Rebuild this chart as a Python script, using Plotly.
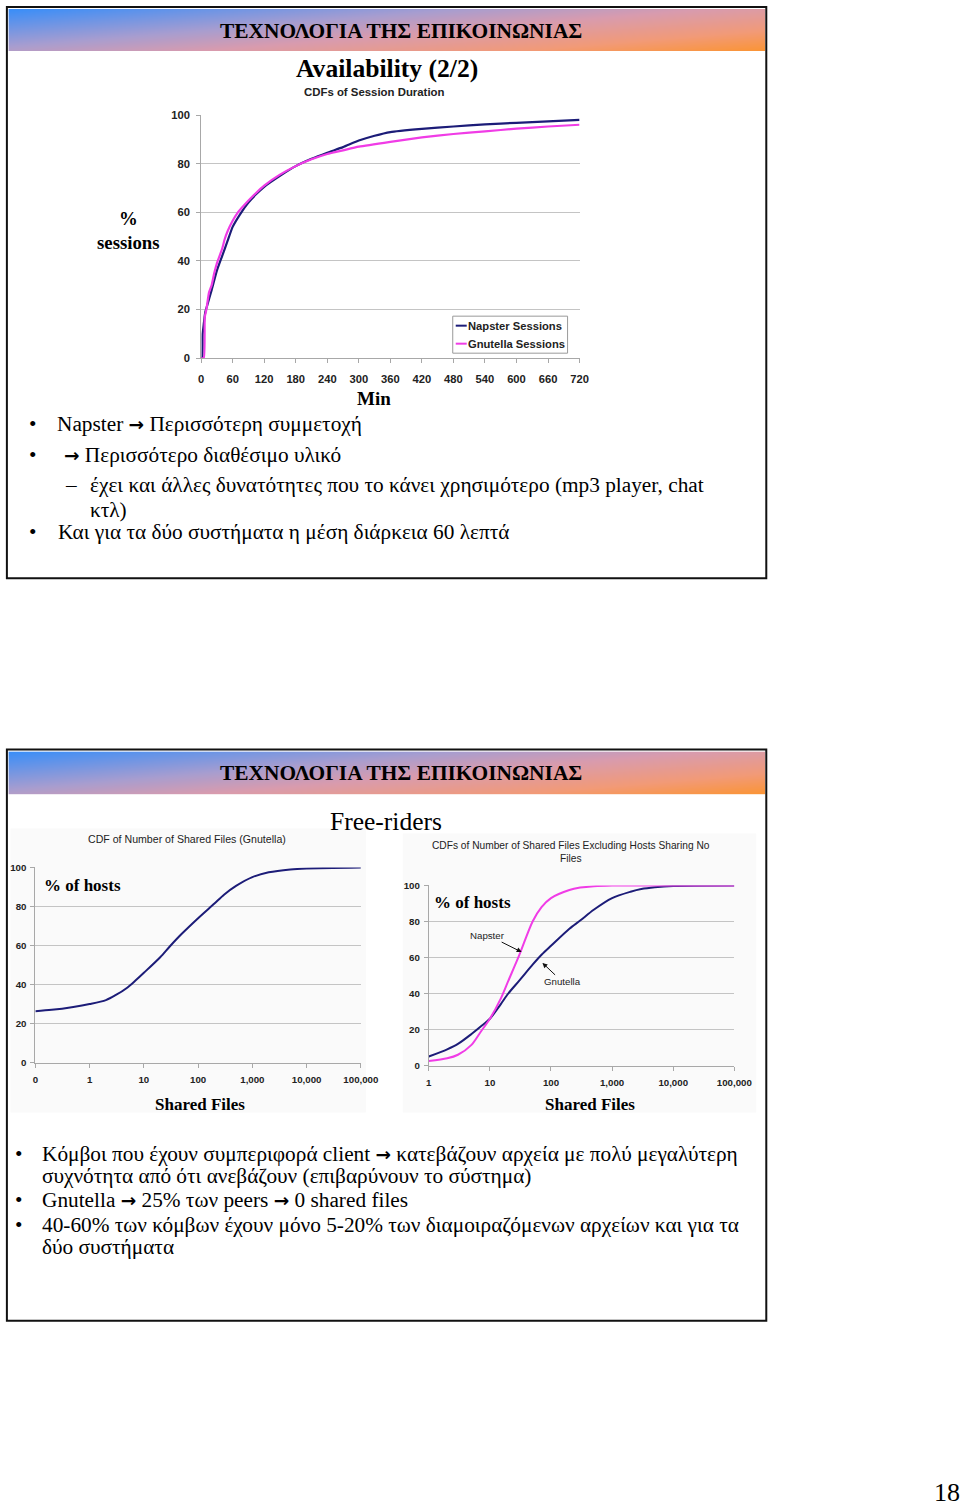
import plotly.graph_objects as go

# The photographed picture maps page pixels as pic = 2.6 + 0.98*x, 6 + 0.9916*y,
# so positions read off the reference are converted back to page pixels.
W, H = 980, 1520
SX, OX = 0.98, 2.6
SY, OY = 0.9916, 6.0
TEXT_PAD = 2.5  # annotation border + pad before the glyphs start
SERIF = "Liberation Serif"
SANS = "Liberation Sans"
NAVY = "#1c1c78"
MAGENTA = "#f03ce6"
GRID = "#c4c4c4"
AXIS = "#a8a8a8"
ARROW = '<span style="font-family:DejaVu Sans;font-weight:bold;font-size:18.5px">→</span>'

# --- data -------------------------------------------------------------------
# CDFs of session duration (minutes -> % sessions)
session_ticks = list(range(0, 721, 60))
napster_min = [0, 2, 3, 5, 8, 12, 20, 30, 40, 50, 60, 75, 90, 105, 120, 150, 180,
               210, 240, 270, 300, 330, 360, 420, 480, 540, 600, 660, 720]
napster_pct = [0, 0, 10, 14, 19, 22, 28, 36, 42, 48, 54, 59.5, 64, 67.5, 70.5, 75,
               79, 82, 84.5, 86.8, 89.5, 91.5, 93, 94.3, 95.3, 96.2, 96.8, 97.4, 98]
gnutella_min = [0, 5, 7, 10, 15, 20, 25, 30, 35, 40, 45, 50, 60, 70, 80, 100, 120,
                150, 180, 210, 240, 270, 300, 360, 420, 480, 540, 600, 660, 720]
gnutella_pct = [0, 0, 17, 20, 27, 30, 35, 39, 42, 45, 49, 52, 56.5, 60, 62.5, 67, 71,
                75.5, 79, 81.8, 84, 85.5, 87, 89, 90.8, 92.2, 93.3, 94.4, 95.3, 96]
legend_names = ["Napster Sessions", "Gnutella Sessions"]

# CDF of number of shared files (Gnutella); the "0" slot sits at 0.1 on the log axis
files_left = [0.1, 0.2, 0.5, 1, 2, 3, 5, 7, 10, 20, 30, 50, 100, 200, 300, 500,
              1000, 2000, 5000, 10000, 100000]
gnut_all_pct = [26.3, 27, 28.5, 30, 32, 34.5, 38.5, 42, 46, 54, 59.5, 66, 74, 81.5,
                86, 90.5, 95, 97.5, 99, 99.5, 100]
left_tickvals = [0.1, 1, 10, 100, 1000, 10000, 100000]
left_ticktext = ["0", "1", "10", "100", "1,000", "10,000", "100,000"]

# CDFs excluding hosts sharing no files
files_right = [1, 2, 3, 5, 7, 10, 15, 20, 30, 50, 70, 100, 200, 300, 500, 1000,
               2000, 3000, 5000, 10000, 100000]
gnut_excl_pct = [5, 9, 12, 17.5, 21.5, 26, 34, 40, 47, 56, 61.5, 66.5, 76, 80.5,
                 86.5, 93, 96.5, 98, 99, 99.7, 100]
nap_excl_pct = [2.5, 4, 6, 11.5, 18.5, 26, 37, 47, 61, 80, 88, 93, 97.5, 98.8,
                99.6, 100, 100, 100, 100, 100, 100]
right_tickvals = [1, 10, 100, 1000, 10000, 100000]
right_ticktext = ["1", "10", "100", "1,000", "10,000", "100,000"]

# header gradient: corner values of a diagonal ramp
header_z = [[0.4, 1.0], [0.0, 0.6]]
header_scale = [[0, "#3a8ef8"], [0.35, "#a79dd0"], [0.55, "#d99bae"],
                [0.8, "#f29a78"], [1, "#fb9433"]]

HEADER = "ΤΕΧΝΟΛΟΓΙΑ ΤΗΣ ΕΠΙΚΟΙΝΩΝΙΑΣ"


def px(x):
    return (x - OX) / SX / W


def py(y):
    return 1 - (y - OY) / SY / H


fig = go.Figure()

# --- header gradients -------------------------------------------------------
for ax in ("4", "5"):
    fig.add_trace(go.Heatmap(
        z=header_z, x=[0, 1], y=[0, 1], zsmooth="best", colorscale=header_scale,
        zmin=0, zmax=1, showscale=False, hoverinfo="skip",
        xaxis="x" + ax, yaxis="y" + ax,
    ))

# --- session duration chart -------------------------------------------------
fig.add_trace(go.Scatter(
    x=napster_min, y=napster_pct, mode="lines", name=legend_names[0],
    line=dict(color=NAVY, width=2.2, shape="spline", smoothing=0.5),
    xaxis="x", yaxis="y",
))
fig.add_trace(go.Scatter(
    x=gnutella_min, y=gnutella_pct, mode="lines", name=legend_names[1],
    line=dict(color=MAGENTA, width=2.2, shape="spline", smoothing=0.5),
    xaxis="x", yaxis="y",
))

# --- shared files (Gnutella) ------------------------------------------------
fig.add_trace(go.Scatter(
    x=files_left, y=gnut_all_pct, mode="lines",
    line=dict(color=NAVY, width=2, shape="spline", smoothing=0.8),
    xaxis="x2", yaxis="y2",
))

# --- shared files excluding zero --------------------------------------------
fig.add_trace(go.Scatter(
    x=files_right, y=gnut_excl_pct, mode="lines",
    line=dict(color=NAVY, width=2, shape="spline", smoothing=0.8),
    xaxis="x3", yaxis="y3",
))
fig.add_trace(go.Scatter(
    x=files_right, y=nap_excl_pct, mode="lines",
    line=dict(color=MAGENTA, width=2, shape="spline", smoothing=0.8),
    xaxis="x3", yaxis="y3",
))

tick_font_big = dict(family=SANS, size=11.2, color="#222", weight="bold")
tick_font_small = dict(family=SANS, size=9.7, color="#222", weight="bold")


def chart_axes(xdom, ydom, xkw, ykw, font):
    x = dict(domain=[px(xdom[0]), px(xdom[1])], showgrid=False, zeroline=False,
             showline=True, linecolor=AXIS, linewidth=1, ticks="outside", ticklen=4,
             tickcolor=AXIS, tickfont=font, fixedrange=True)
    y = dict(domain=[py(ydom[1]), py(ydom[0])], range=[0, 100], dtick=20,
             showgrid=True, gridcolor=GRID, gridwidth=1, zeroline=False,
             showline=True, linecolor=AXIS, linewidth=1, ticks="outside", ticklen=4,
             tickcolor=AXIS, tickfont=font, fixedrange=True)
    x.update(xkw)
    y.update(ykw)
    return x, y


xa1, ya1 = chart_axes((201, 580), (115, 358),
                      dict(range=[0, 720], tickvals=session_ticks, anchor="y",
                           ticklabelstandoff=6),
                      dict(anchor="x", ticklabelstandoff=4), tick_font_big)
xa2, ya2 = chart_axes((35, 361), (867, 1062),
                      dict(type="log", range=[-1, 5], tickvals=left_tickvals,
                           ticktext=left_ticktext, anchor="y2", ticklabelstandoff=4),
                      dict(anchor="x2", ticklabelstandoff=2), tick_font_small)
xa3, ya3 = chart_axes((429, 735), (885, 1065),
                      dict(type="log", range=[0, 5], tickvals=right_tickvals,
                           ticktext=right_ticktext, anchor="y3", ticklabelstandoff=4),
                      dict(anchor="x3", ticklabelstandoff=2), tick_font_small)

hidden = dict(visible=False, range=[0, 1], fixedrange=True)

fig.update_layout(
    width=W, height=H, margin=dict(l=0, r=0, t=0, b=0),
    paper_bgcolor="white", plot_bgcolor="white",
    xaxis=xa1, yaxis=ya1, xaxis2=xa2, yaxis2=ya2, xaxis3=xa3, yaxis3=ya3,
    xaxis4=dict(hidden, domain=[px(8), px(766)], anchor="y4"),
    yaxis4=dict(hidden, domain=[py(51), py(9)], anchor="x4"),
    xaxis5=dict(hidden, domain=[px(8), px(766)], anchor="y5"),
    yaxis5=dict(hidden, domain=[py(794), py(751)], anchor="x5"),
    showlegend=False,
)

# --- slide frames -----------------------------------------------------------
for top, bottom in ((7, 578), (749, 1320)):
    fig.add_shape(type="rect", xref="paper", yref="paper",
                  x0=px(6.5), x1=px(767), y0=py(bottom), y1=py(top),
                  line=dict(color="#111", width=2), fillcolor="rgba(0,0,0,0)",
                  layer="above")

# faint chart image backgrounds
for x0, x1, y0, y1 in ((10, 366, 828, 1112), (403, 757, 833, 1112)):
    fig.add_shape(type="rect", xref="paper", yref="paper",
                  x0=px(x0), x1=px(x1), y0=py(y1), y1=py(y0),
                  line=dict(width=0), fillcolor="#fafafa", layer="below")


def note(text, x, y, size, bold=False, xanchor="center", family=SERIF,
         color="#000"):
    if xanchor == "left":
        x -= TEXT_PAD
    elif xanchor == "right":
        x += TEXT_PAD
    fig.add_annotation(
        text=f"<b>{text}</b>" if bold else text, x=px(x), y=py(y),
        xref="paper", yref="paper", showarrow=False, xanchor=xanchor,
        yanchor="middle", font=dict(family=family, size=size, color=color),
    )


# --- legend box of the session chart ----------------------------------------
fig.add_shape(type="rect", xref="paper", yref="paper",
              x0=px(453), x1=px(568), y0=py(353), y1=py(316),
              line=dict(color="#9a9a9a", width=1), fillcolor="white")
for name, color, y in ((legend_names[0], NAVY, 325.5), (legend_names[1], MAGENTA, 343.5)):
    fig.add_shape(type="line", xref="paper", yref="paper",
                  x0=px(456), x1=px(467), y0=py(y), y1=py(y),
                  line=dict(color=color, width=2))
    note(name, 469, y, 11.2, bold=True, xanchor="left", family=SANS, color="#222")

# --- slide 1 texts ----------------------------------------------------------
note(HEADER, 401, 31, 21.4, bold=True)
note("Availability (2/2)", 387, 68, 25.6, bold=True)
note("CDFs of Session Duration", 375, 92, 11.4, bold=True, family=SANS, color="#222")
note("%", 128, 218, 18.8, bold=True)
note("sessions", 128, 242, 18.8, bold=True)
note("Min", 374, 398, 19, bold=True)

bullets1 = [
    ("•", 32, 424, f"Napster {ARROW} Περισσότερη συμμετοχή", 57),
    ("•", 32, 455, f"{ARROW} Περισσότερο διαθέσιμο υλικό", 64),
    ("–", 71, 485, "έχει και άλλες δυνατότητες που το κάνει χρησιμότερο (mp3 player, chat", 90),
    ("", 0, 510, "κτλ)", 90),
    ("•", 32, 532, "Και για τα δύο συστήματα η μέση διάρκεια 60 λεπτά", 58),
]
for mark, mx, y, text, tx in bullets1:
    if mark:
        note(mark, mx, y, 21.3)
    note(text, tx, y, 21.3, xanchor="left")

# --- slide 2 texts ----------------------------------------------------------
note(HEADER, 401, 773, 21.4, bold=True)
note("Free-riders", 386, 821, 25.5)
note("CDF of Number of Shared Files (Gnutella)", 187, 839, 10.6, family=SANS,
     color="#222")
note("CDFs of Number of Shared Files Excluding Hosts Sharing No", 571, 845, 10.2,
     family=SANS, color="#222")
note("Files", 571, 858, 10.2, family=SANS, color="#222")
note("% of hosts", 44, 885, 17, bold=True, xanchor="left")
note("% of hosts", 435, 902, 17, bold=True, xanchor="left")
note("Shared Files", 200, 1104, 17, bold=True)
note("Shared Files", 590, 1104, 17, bold=True)

fig.add_annotation(text="Napster", x=1.52, y=63, xref="x3", yref="y3",
                   ax=-34, ay=-17, showarrow=True, arrowhead=2, arrowsize=1,
                   arrowwidth=1, arrowcolor="#111",
                   font=dict(family=SANS, size=9.7, color="#222"))
fig.add_annotation(text="Gnutella", x=1.86, y=57, xref="x3", yref="y3",
                   ax=20, ay=19, showarrow=True, arrowhead=2, arrowsize=1,
                   arrowwidth=1, arrowcolor="#111",
                   font=dict(family=SANS, size=9.7, color="#222"))

bullets2 = [
    ("•", 1153, f"Κόμβοι που έχουν συμπεριφορά client {ARROW} κατεβάζουν αρχεία με πολύ μεγαλύτερη"),
    ("", 1175, "συχνότητα από ότι ανεβάζουν (επιβαρύνουν το σύστημα)"),
    ("•", 1199, f"Gnutella {ARROW} 25% των peers {ARROW} 0 shared files"),
    ("•", 1224, "40-60% των κόμβων έχουν μόνο 5-20% των διαμοιραζόμενων αρχείων και για τα"),
    ("", 1246, "δύο συστήματα"),
]
for mark, y, text in bullets2:
    if mark:
        note(mark, 18, y, 21.3)
    note(text, 42, y, 21.3, xanchor="left")

note("18", 960, 1492, 26, xanchor="right")

# the page's default body margin would push the figure off its spot
fig.write_html(
    "out.html",
    config={"displayModeBar": False},
    post_script="document.body.style.margin='0';document.body.style.overflow='hidden';",
)
